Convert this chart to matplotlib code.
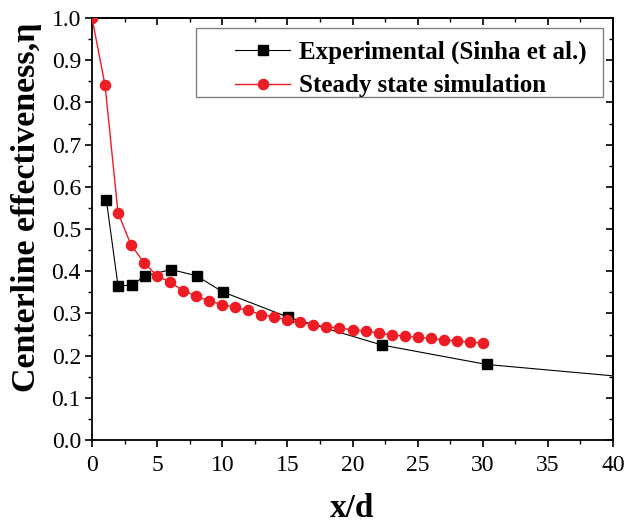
import matplotlib
matplotlib.use("Agg")
import matplotlib.pyplot as plt
from matplotlib.ticker import MultipleLocator
from matplotlib.patches import Rectangle

plt.rcParams['font.family'] = ['Liberation Serif', 'DejaVu Serif']

# Data
exp_x = [1.1, 2.0, 3.05, 4.07, 6.09, 8.03, 10.03, 15.07, 22.27, 30.3, 40.0]
exp_y = [0.569, 0.365, 0.367, 0.389, 0.404, 0.389, 0.351, 0.291, 0.225, 0.179, 0.152]
sim_x = list(range(0, 31))
sim_y = [1.0, 0.841, 0.538, 0.462, 0.420, 0.389, 0.374, 0.354, 0.341, 0.329,
         0.321, 0.314, 0.307, 0.297, 0.292, 0.284, 0.279, 0.273, 0.268, 0.265,
         0.261, 0.258, 0.253, 0.249, 0.246, 0.243, 0.241, 0.237, 0.235, 0.232, 0.230]
x_label = "x/d"
y_label = "Centerline effectiveness,η"
labels = ["Experimental (Sinha et al.)", "Steady state simulation"]

fig = plt.figure(figsize=(6.28, 5.27), dpi=100)
ax = fig.add_axes([92/628, 1-440/527, (613-92)/628, (440-18)/527])

ax.plot(exp_x, exp_y, color='black', lw=0.8, marker='s', ms=6.5,
        markevery=list(range(len(exp_x)-1)), label=labels[0], zorder=2)
ax.plot(sim_x, sim_y, color='#ee1c24', lw=1.0, marker='o', ms=7.3,
        markeredgecolor='#ee1c24', label=labels[1], zorder=3)

ax.set_xlim(0, 40)
ax.set_ylim(0, 1.0)
ax.xaxis.set_major_locator(MultipleLocator(5))
ax.xaxis.set_minor_locator(MultipleLocator(2.5))
ax.yaxis.set_major_locator(MultipleLocator(0.1))
ax.yaxis.set_minor_locator(MultipleLocator(0.05))
ax.yaxis.set_major_formatter(plt.FormatStrFormatter('%.1f'))
ax.tick_params(which='major', direction='out', length=5, width=1.2, labelsize=17, pad=3)
ax.tick_params(axis='x', which='major', pad=6)
ax.tick_params(which='minor', direction='out', length=3, width=1.0)
for s in ax.spines.values():
    s.set_linewidth(1.3)

top = ax.secondary_xaxis('top')
top.xaxis.set_major_locator(MultipleLocator(5))
top.xaxis.set_minor_locator(MultipleLocator(2.5))
top.tick_params(which='major', direction='in', length=5, width=1.2, labeltop=False)
top.tick_params(which='minor', direction='in', length=3, width=1.0)
right = ax.secondary_yaxis('right')
right.yaxis.set_major_locator(MultipleLocator(0.1))
right.yaxis.set_minor_locator(MultipleLocator(0.05))
right.tick_params(which='major', direction='in', length=5, width=1.2, labelright=False)
right.tick_params(which='minor', direction='in', length=3, width=1.0)
for sa in (top, right):
    for s in sa.spines.values():
        s.set_linewidth(1.3)

ax.set_xlabel(x_label, fontsize=24, fontweight='bold')
ax.xaxis.set_label_coords(0.5, -(517-440)/422)
ax.xaxis.label.set_va('baseline')
ax.set_ylabel(y_label, fontsize=24.5, fontweight='bold')
ax.yaxis.set_label_coords((42-92)/521, (440-207)/422)

leg = ax.legend(loc='upper left', bbox_to_anchor=(235/628, 1-41/527),
                bbox_transform=fig.transFigure, frameon=False,
                prop={'weight': 'bold', 'size': 18}, borderpad=0, borderaxespad=0,
                handlelength=2.2, labelspacing=0.4, handletextpad=0.35)
leg.set_zorder(6)
ax.add_patch(Rectangle((196/628, 1-97/527), (603-196)/628, (97-28)/527,
                       transform=fig.transFigure, fill=True, facecolor='white',
                       edgecolor='#808080', lw=1.0, zorder=5, clip_on=False))

fig.savefig("out.png", dpi=100)
